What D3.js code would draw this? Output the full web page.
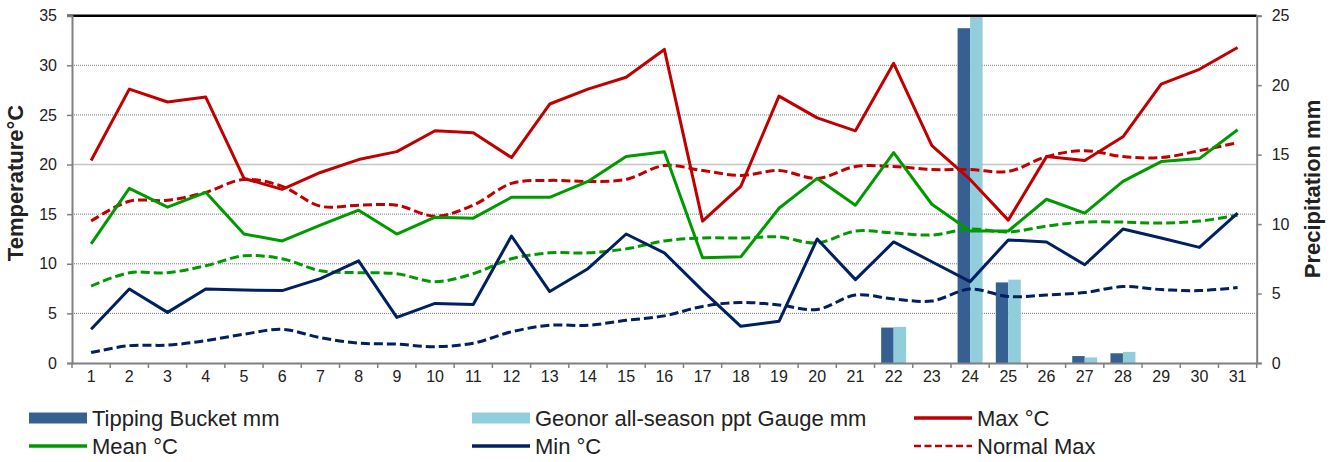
<!DOCTYPE html>
<html>
<head>
<meta charset="utf-8">
<script src="https://cdn.jsdelivr.net/npm/d3@7"></script>
<style>
  html, body { margin: 0; padding: 0; background: #fff; }
  svg { display: block; font-family: "Liberation Sans", Arial, sans-serif; }
</style>
</head>
<body>
<svg id="chart" width="1336" height="462"></svg>
<script>
const days = ["1","2","3","4","5","6","7","8","9","10","11","12","13","14","15","16","17","18","19","20","21","22","23","24","25","26","27","28","29","30","31"];
const tippingBucket = [0,0,0,0,0,0,0,0,0,0,0,0,0,0,0,0,0,0,0,0,0,2.55,0,24.1,5.8,0,0.5,0.7,0,0,0];
const geonor        = [0,0,0,0,0,0,0,0,0,0,0,0,0,0,0,0,0,0,0,0,0,2.6,0,25,6.0,0,0.4,0.8,0,0,0];
const maxT  = [20.4,27.6,26.3,26.8,18.6,17.5,19.2,20.5,21.3,23.4,23.2,20.7,26.1,27.6,28.8,31.6,14.3,17.8,26.9,24.7,23.4,30.2,21.9,18.5,14.4,20.8,20.4,22.8,28.1,29.6,31.8];
const meanT = [12.0,17.6,15.7,17.2,13.0,12.3,13.9,15.4,13.0,14.7,14.6,16.7,16.7,18.3,20.8,21.3,10.6,10.7,15.6,18.6,15.9,21.2,16.0,13.3,13.3,16.5,15.1,18.3,20.3,20.6,23.5];
const minT  = [3.4,7.45,5.1,7.45,7.35,7.3,8.5,10.3,4.6,6.0,5.9,12.8,7.2,9.5,13.0,11.1,7.3,3.7,4.2,12.5,8.4,12.2,10.2,8.2,12.4,12.2,9.9,13.5,12.6,11.65,15.1];
const normalMax  = [14.3,16.3,16.4,17.2,18.5,17.8,15.8,15.9,15.9,14.8,15.9,18.1,18.4,18.3,18.5,19.9,19.4,18.9,19.4,18.6,19.8,19.8,19.5,19.5,19.3,20.8,21.4,20.8,20.7,21.4,22.2];
const normalMean = [7.75,9.1,9.1,9.8,10.8,10.5,9.3,9.1,9.0,8.2,9.0,10.5,11.1,11.1,11.5,12.3,12.6,12.6,12.7,12.1,13.3,13.1,12.9,13.5,13.2,13.8,14.2,14.2,14.1,14.3,14.9];
const normalMin  = [1.05,1.75,1.8,2.25,2.9,3.4,2.55,2.0,1.9,1.65,2.0,3.15,3.8,3.8,4.3,4.75,5.7,6.1,5.85,5.4,6.85,6.45,6.25,7.45,6.7,6.85,7.1,7.7,7.4,7.3,7.6];
const tempTicks = [0,5,10,15,20,25,30,35];
const precipTicks = [0,5,10,15,20,25];

const C = { red: "#c00000", green: "#009a00", navy: "#002060", tb: "#376092", geo: "#92cddc", text: "#222" };

const svg = d3.select("#chart");
const L = 72, R = 1256.7, T = 15.7, B = 363;

const x = d3.scaleBand().domain(days).range([L, R]).padding(0);
const xs = d3.scaleBand().domain(["tb", "geo"]).range([0, x.bandwidth()]).paddingInner(0).paddingOuter(0.53);
const yL = d3.scaleLinear().domain([0, 35]).range([B, T]);
const yR = d3.scaleLinear().domain([0, 25]).range([B, T]);
const cx = d => x(d) + x.bandwidth() / 2;

svg.append("defs").append("clipPath").attr("id", "clip")
  .append("rect").attr("x", L).attr("y", T).attr("width", R - L).attr("height", B - T);

// gridlines
svg.append("g").selectAll("line").data(tempTicks.filter(t => t > 0 && t < 35)).join("line")
  .attr("x1", L).attr("x2", R).attr("y1", d => yL(d)).attr("y2", d => yL(d))
  .attr("stroke", d => d === 20 ? "#c4c4c4" : "#7a7a7a")
  .attr("stroke-width", d => d === 20 ? 1.5 : 1)
  .attr("stroke-dasharray", d => d === 20 ? null : "1,1");

// bars
const bars = svg.append("g").attr("clip-path", "url(#clip)");
bars.selectAll("rect.tb").data(days).join("rect").attr("class", "tb")
  .attr("x", d => x(d) + xs("tb")).attr("width", xs.bandwidth())
  .attr("y", (d, i) => yR(tippingBucket[i])).attr("height", (d, i) => B - yR(tippingBucket[i]))
  .attr("fill", C.tb);
bars.selectAll("rect.geo").data(days).join("rect").attr("class", "geo")
  .attr("x", d => x(d) + xs("geo")).attr("width", xs.bandwidth())
  .attr("y", (d, i) => yR(geonor[i])).attr("height", (d, i) => B - yR(geonor[i]))
  .attr("fill", C.geo);

// lines
const lineStraight = d3.line().x((v, i) => cx(days[i])).y(v => yL(v));
const lineSmooth = d3.line().x((v, i) => cx(days[i])).y(v => yL(v)).curve(d3.curveCatmullRom.alpha(0.5));
const lines = svg.append("g").attr("fill", "none").attr("stroke-linejoin", "round");
function addLine(data, color, dashed) {
  lines.append("path").datum(data)
    .attr("d", dashed ? lineSmooth : lineStraight)
    .attr("stroke", color).attr("stroke-width", 3)
    .attr("stroke-dasharray", dashed ? "9,4" : null);
}
addLine(normalMin, C.navy, true);
addLine(normalMean, C.green, true);
addLine(normalMax, C.red, true);
addLine(minT, C.navy, false);
addLine(meanT, C.green, false);
addLine(maxT, C.red, false);

// top border
svg.append("line").attr("x1", L - 5).attr("x2", R).attr("y1", T).attr("y2", T)
  .attr("stroke", "#000").attr("stroke-width", 2.5);

// left axis
const axL = svg.append("g").attr("transform", `translate(${L},0)`)
  .call(d3.axisLeft(yL).tickValues(tempTicks).tickSize(5).tickPadding(10).tickFormat(d3.format("d")));
axL.select(".domain").attr("stroke", "#808080").attr("stroke-width", 2);
axL.selectAll(".tick line").attr("stroke", "#808080").attr("stroke-width", 1.5);
axL.selectAll("text").attr("font-size", 16).attr("fill", C.text).attr("font-family", "Liberation Sans, Arial, sans-serif");

// right axis
const axR = svg.append("g").attr("transform", `translate(${R},0)`)
  .call(d3.axisRight(yR).tickValues(precipTicks).tickSize(5).tickPadding(10).tickFormat(d3.format("d")));
axR.select(".domain").attr("stroke", "#808080").attr("stroke-width", 2);
axR.selectAll(".tick line").attr("stroke", "#808080").attr("stroke-width", 1.5);
axR.selectAll("text").attr("font-size", 16).attr("fill", C.text).attr("font-family", "Liberation Sans, Arial, sans-serif");

// bottom axis
const axB = svg.append("g").attr("transform", `translate(0,${B})`)
  .call(d3.axisBottom(x).tickSize(0).tickPadding(8));
axB.select(".domain").attr("stroke", "#808080").attr("stroke-width", 2);
axB.selectAll("text").attr("font-size", 16).attr("fill", C.text).attr("font-family", "Liberation Sans, Arial, sans-serif");
svg.append("g").selectAll("line").data(days.concat(["end"])).join("line")
  .attr("x1", d => d === "end" ? R : x(d)).attr("x2", d => d === "end" ? R : x(d))
  .attr("y1", B).attr("y2", B + 5).attr("stroke", "#808080").attr("stroke-width", 1.5);

// axis titles
svg.append("text").attr("transform", "translate(23,183) rotate(-90)")
  .attr("text-anchor", "middle").attr("font-size", 22).attr("font-weight", "bold")
  .attr("fill", C.text).text("Temperature°C");
svg.append("text").attr("transform", "translate(1320,189) rotate(-90)")
  .attr("text-anchor", "middle").attr("font-size", 22).attr("font-weight", "bold")
  .attr("fill", C.text).text("Precipitation mm");

// legend
const legend = [
  { label: "Tipping Bucket mm", type: "rect", color: C.tb, x: 29, y: 418 },
  { label: "Geonor all-season ppt Gauge mm", type: "rect", color: C.geo, x: 472, y: 418 },
  { label: "Max °C", type: "line", color: C.red, x: 914, y: 418 },
  { label: "Mean °C", type: "line", color: C.green, x: 29, y: 446 },
  { label: "Min °C", type: "line", color: C.navy, x: 472, y: 446 },
  { label: "Normal Max", type: "dash", color: C.red, x: 914, y: 446 }
];
const lg = svg.append("g");
legend.forEach(e => {
  if (e.type === "rect") {
    lg.append("rect").attr("x", e.x).attr("y", e.y - 5.5).attr("width", 58).attr("height", 11).attr("fill", e.color);
  } else {
    lg.append("line").attr("x1", e.x).attr("x2", e.x + 58).attr("y1", e.y).attr("y2", e.y)
      .attr("stroke", e.color).attr("stroke-width", e.type === "dash" ? 2.5 : 3.5)
      .attr("stroke-dasharray", e.type === "dash" ? "7,3.5" : null);
  }
  lg.append("text").attr("x", e.x + 63).attr("y", e.y + 7.8)
    .attr("font-size", 22).attr("fill", C.text).text(e.label);
});
</script>
</body>
</html>
